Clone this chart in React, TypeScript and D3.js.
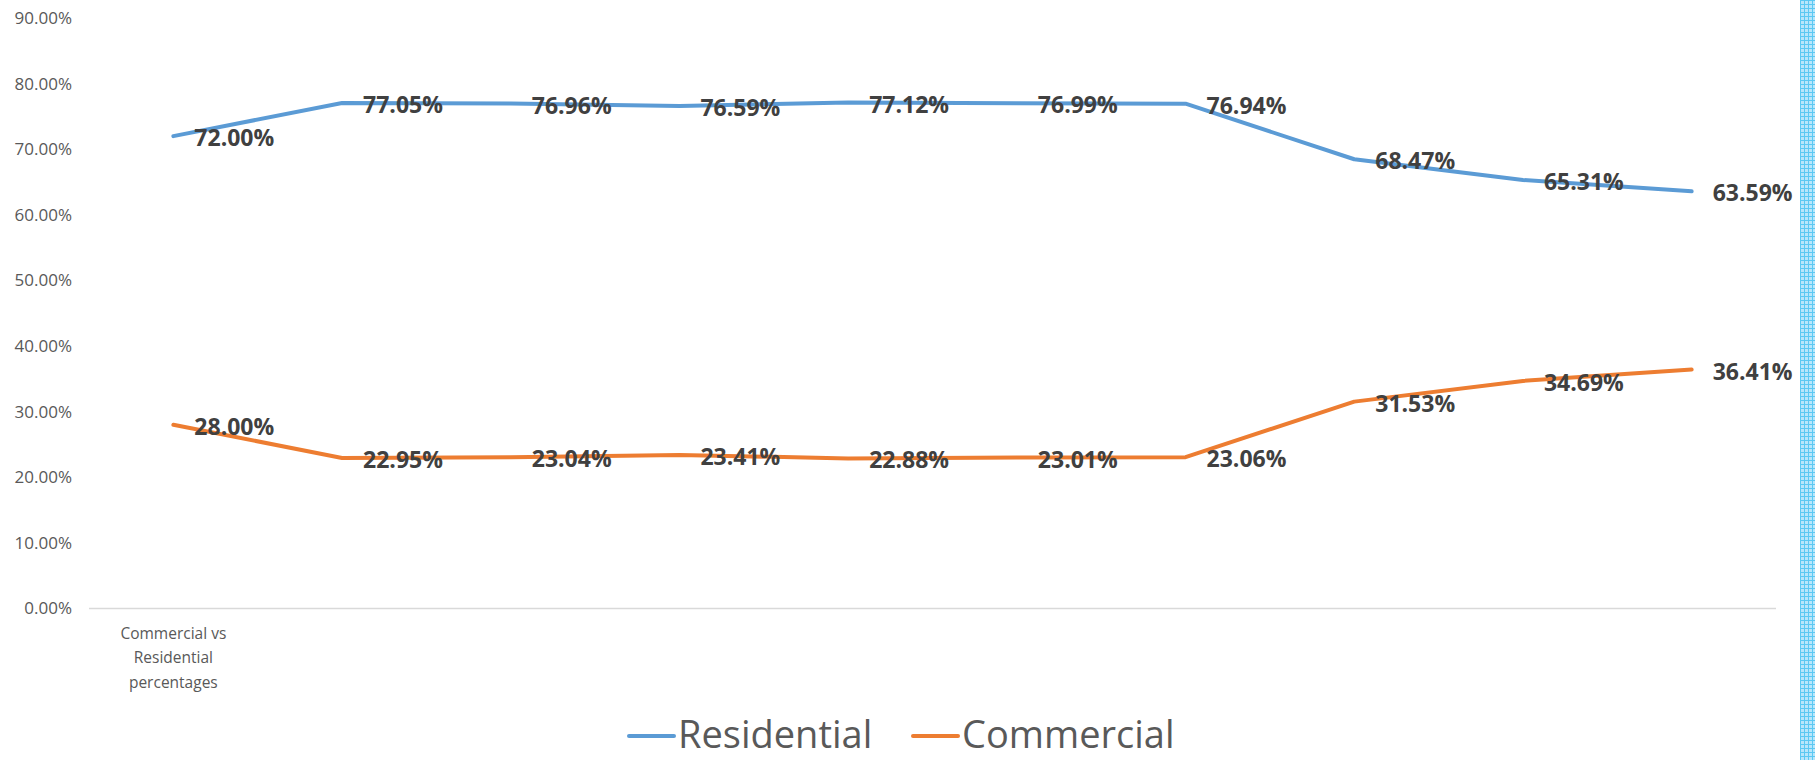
import React from "react";
import * as d3 from "d3";

const categories = ["c1", "c2", "c3", "c4", "c5", "c6", "c7", "c8", "c9", "c10"];
const categoryLabels = ["Commercial vs|Residential|percentages", "", "", "", "", "", "", "", "", ""];
const residential = [72.0, 77.05, 76.96, 76.59, 77.12, 76.99, 76.94, 68.47, 65.31, 63.59];
const commercial = [28.0, 22.95, 23.04, 23.41, 22.88, 23.01, 23.06, 31.53, 34.69, 36.41];
const yTicks = [0, 10, 20, 30, 40, 50, 60, 70, 80, 90];
const seriesNames = ["Residential", "Commercial"];
const seriesColors = ["#5B9BD5", "#ED7D31"];

const W = 1815;
const H = 760;
const plotLeft = 89;
const plotRight = 1776;
const plotTop = 18;
const plotBottom = 608.5;

export default function App() {
  const x = d3.scaleBand<string>().domain(categories).range([plotLeft, plotRight]);
  const y = d3.scaleLinear().domain([0, 90]).range([plotBottom, plotTop]);
  const cx = (c: string) => (x(c) as number) + x.bandwidth() / 2;
  const line = d3
    .line<number>()
    .x((_, i) => cx(categories[i]))
    .y((d) => y(d));
  const series = [residential, commercial];
  const font = "'Open Sans', 'Noto Sans', sans-serif";
  const legendX = [629, 913];

  return (
    <svg
      width={W}
      height={H}
      style={{ position: "absolute", left: 0, top: 0, display: "block" }}
      fontFamily={font}
    >
      <defs>
        <pattern id="hatch" width="4" height="4" patternUnits="userSpaceOnUse">
          <rect width="4" height="4" fill="#b8e6fb" />
          <rect x="0" y="0" width="1" height="4" fill="#5cc8f2" />
          <rect x="0" y="0" width="4" height="1" fill="#5cc8f2" />
        </pattern>
      </defs>
      <rect x={0} y={0} width={W} height={H} fill="#ffffff" />
      <rect x={1800} y={0} width={15} height={H} fill="url(#hatch)" />

      {yTicks.map((t) => (
        <text
          key={t}
          x={72}
          y={y(t)}
          dy="0.35em"
          textAnchor="end"
          fontSize={17}
          fill="#595959"
        >
          {t.toFixed(2) + "%"}
        </text>
      ))}

      <line x1={plotLeft} x2={plotRight} y1={y(0)} y2={y(0)} stroke="#d9d9d9" strokeWidth={1.5} />

      {categories.map((c, i) =>
        categoryLabels[i]
          ? categoryLabels[i].split("|").map((ln, k) => (
              <text
                key={c + k}
                x={cx(c)}
                y={y(0) + 25 + k * 24.5}
                dy="0.35em"
                textAnchor="middle"
                fontSize={15.5}
                fill="#595959"
              >
                {ln}
              </text>
            ))
          : null
      )}

      {series.map((s, si) => (
        <path
          key={si}
          d={line(s) || ""}
          fill="none"
          stroke={seriesColors[si]}
          strokeWidth={4}
          strokeLinecap="round"
          strokeLinejoin="round"
        />
      ))}

      {series.map((s, si) =>
        s.map((v, i) => (
          <text
            key={si + "-" + i}
            x={cx(categories[i]) + 21}
            y={y(v) + 2}
            dy="0.35em"
            fontSize={23}
            fontWeight="bold"
            fill="#404040"
          >
            {v.toFixed(2) + "%"}
          </text>
        ))
      )}

      {seriesNames.map((n, i) => {
        const lx = legendX[i];
        return (
          <g key={n}>
            <line x1={lx} x2={lx + 45} y1={736} y2={736} stroke={seriesColors[i]} strokeWidth={4} strokeLinecap="round" />
            <text x={lx + 49} y={748} fontSize={38} fill="#595959">
              {n}
            </text>
          </g>
        );
      })}
    </svg>
  );
}
